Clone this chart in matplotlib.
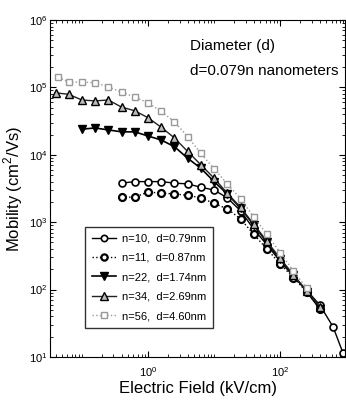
import numpy as np
import matplotlib.pyplot as plt
import matplotlib as mpl
from matplotlib.ticker import LogLocator, NullFormatter

mpl.rcParams["font.family"] = ["Liberation Sans Narrow", "Liberation Sans", "DejaVu Sans"]
mpl.rcParams["mathtext.fontset"] = "custom"
mpl.rcParams["mathtext.rm"] = "Liberation Sans"

# electric field (kV/cm) and mobility (cm^2/Vs)
field_10 = [0.4, 0.63, 1.0, 1.58, 2.51, 3.98, 6.31, 10, 15.8, 25.1, 39.8, 63.1, 100, 158, 251, 398, 631, 890]
mob_10 = [3800, 4000, 4000, 4000, 3800, 3700, 3300, 3000, 2300, 1480, 790, 460, 263, 158, 98, 59, 28, 11.5]

field_11 = [0.4, 0.63, 1.0, 1.58, 2.51, 3.98, 6.31, 10, 15.8, 25.1, 39.8, 63.1, 100, 158, 251, 398]
mob_11 = [2350, 2350, 2800, 2700, 2630, 2500, 2300, 1900, 1580, 1120, 660, 400, 240, 151, 93, 52]

field_22 = [0.1, 0.158, 0.251, 0.398, 0.631, 1.0, 1.58, 2.51, 3.98, 6.31, 10, 15.8, 25.1, 39.8, 63.1, 100, 158, 251, 398]
mob_22 = [24000, 25000, 23400, 21900, 21900, 19000, 16600, 13200, 8900, 6300, 4000, 2630, 1620, 910, 500, 280, 166, 93, 52]

field_34 = [0.04, 0.063, 0.1, 0.158, 0.251, 0.398, 0.631, 1.0, 1.58, 2.51, 3.98, 6.31, 10, 15.8, 25.1, 39.8, 63.1, 100, 158, 251, 398]
mob_34 = [83000, 79000, 65000, 63000, 65000, 51000, 45000, 35500, 25700, 17800, 11200, 7100, 4500, 2700, 1660, 930, 520, 290, 166, 95, 56]

field_56 = [0.044, 0.063, 0.1, 0.158, 0.251, 0.398, 0.631, 1.0, 1.58, 2.51, 3.98, 6.31, 10, 15.8, 25.1, 39.8, 63.1, 100, 158, 251]
mob_56 = [141000, 120000, 120000, 117000, 102000, 85000, 72000, 59000, 44000, 31000, 18600, 10500, 6200, 3700, 2240, 1200, 660, 355, 190, 105]

labels = ["n=10,  d=0.79nm", "n=11,  d=0.87nm", "n=22,  d=1.74nm", "n=34,  d=2.69nm", "n=56,  d=4.60nm"]

fig = plt.figure(figsize=(3.46, 4.08), dpi=100)
ax = fig.add_axes([0.145, 0.125, 0.852, 0.826])

ax.plot(field_10, mob_10, "-", color="black", lw=1.0, marker="o", ms=5,
        mfc="white", mec="black", mew=1.2, label=labels[0])
ax.plot(field_11, mob_11, ":", color="black", lw=1.0, marker="o", ms=5,
        mfc="white", mec="black", mew=1.6, label=labels[1])
ax.plot(field_22, mob_22, "-", color="black", lw=1.2, marker="v", ms=6,
        mfc="black", mec="black", label=labels[2])
ax.plot(field_34, mob_34, "-", color="#222222", lw=1.0, marker="^", ms=6,
        mfc="#bbbbbb", mec="black", mew=1.0, label=labels[3])
ax.plot(field_56, mob_56, ":", color="#999999", lw=1.0, marker="s", ms=5,
        mfc="white", mec="#999999", mew=1.0, label=labels[4])

ax.set_xscale("log")
ax.set_yscale("log")
ax.set_xlim(10 ** -1.48, 10 ** 2.98)
ax.set_ylim(10, 1e6)

ax.set_xticks([1, 100])
ax.set_xticklabels([r"$10^0$", r"$10^2$"])
ax.xaxis.set_minor_locator(LogLocator(base=10, subs=np.arange(1, 10), numticks=20))
ax.xaxis.set_minor_formatter(NullFormatter())
ax.set_yticks([1e1, 1e2, 1e3, 1e4, 1e5, 1e6])
ax.set_yticklabels([r"$10^1$", r"$10^2$", r"$10^3$", r"$10^4$", r"$10^5$", r"$10^6$"])
ax.yaxis.set_minor_locator(LogLocator(base=10, subs=np.arange(1, 10), numticks=20))
ax.yaxis.set_minor_formatter(NullFormatter())
ax.tick_params(which="both", direction="in", top=True, right=True, labelsize=8)
ax.tick_params(axis="x", pad=6)
ax.tick_params(axis="y", pad=2)
ax.tick_params(which="major", length=4)
ax.tick_params(which="minor", length=2)

ax.set_xlabel("Electric Field (kV/cm)", fontsize=12, labelpad=1)
ax.set_ylabel("Mobility (cm$^2$/Vs)", fontsize=12, labelpad=3)

ax.text(0.475, 0.945, "Diameter (d)", transform=ax.transAxes, fontsize=11, va="top")
ax.text(0.475, 0.87, "d=0.079n nanometers", transform=ax.transAxes, fontsize=11, va="top")

leg = ax.legend(loc="lower left", bbox_to_anchor=(0.1, 0.1), fontsize=8, frameon=True,
                fancybox=False, edgecolor="black", handlelength=2.2, borderpad=0.6,
                labelspacing=0.85, handletextpad=0.5, markerscale=0.9)
leg.set_bbox_to_anchor((0.1, 0.095 - 0.025), transform=ax.transAxes)
leg.get_frame().set_linewidth(1.0)

fig.savefig("out.png", dpi=100)
